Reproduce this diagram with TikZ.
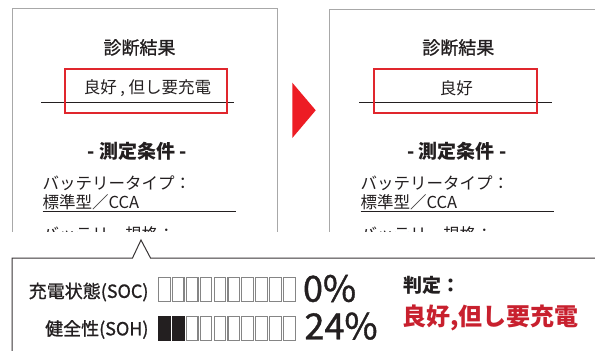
\documentclass[tikz,border=0pt]{standalone}
\usepackage{fontspec}
\setmainfont{Noto Sans CJK JP}
\newfontfamily\jpmed{Noto Sans CJK JP}[FakeBold=1]
\definecolor{panelgray}{HTML}{A8A8A8}
\definecolor{boxred}{HTML}{E0262D}
\definecolor{arrowred}{HTML}{ED1C24}
\definecolor{textred}{HTML}{C8202E}
\definecolor{ink}{HTML}{231F20}
\definecolor{cellgray}{HTML}{858585}
\begin{document}
\begin{tikzpicture}[x=1pt,y=-1pt,
  panel/.style={draw=panelgray, line width=0.9pt},
  redbox/.style={draw=boxred, line width=2.2pt},
  rulestyle/.style={draw=ink, line width=1.4pt},
  txt/.style={inner sep=0pt, outer sep=0pt, text=ink},
  title/.style={txt, font=\jpmed\fontsize{18}{18}\selectfont},
  result/.style={txt, font=\fontsize{16.5}{16.5}\selectfont},
  cond/.style={txt, font=\bfseries\fontsize{19}{19}\selectfont},
  body/.style={txt, anchor=west, font=\fontsize{16.5}{16.5}\selectfont},
  label/.style={txt, anchor=east, font=\jpmed\fontsize{18}{18}\selectfont},
  pct/.style={txt, anchor=base west, font=\jpmed\fontsize{36}{36}\selectfont},
  cellbox/.style={draw=cellgray, line width=1.1pt, fill=white, minimum width=11.8pt, minimum height=23.9pt, inner sep=0pt, outer sep=0pt},
  fullcell/.style={cellbox, draw=ink, fill=ink},
  popup/.style={draw=ink!90, line width=1pt}
]
\useasboundingbox (0,0) rectangle (595,351);
\fill[white] (0,0) rectangle (595,351);

\begin{scope}
\clip (0,0) rectangle (595,231);
% left panel
\draw[panel] (12,240) -- (12,8.5) -- (277,8.5) -- (277,240);
\node[title] (t1) at (139.5,47.5) {診断結果};
\node[result] (r1) at (147.5,88.3) {良好 , 但し要充電};
\draw[rulestyle] (41,102.3) -- (234,102.3);
\draw[redbox] (65,69.3) rectangle (227.3,113.3);
\node[cond] (m1) at (137.2,151) {- 測定条件 -};
\node[body] (b1) at (42.5,183.3) {バッテリータイプ：};
\node[body] (s1) at (42.5,202.5) {標準型／CCA};
\draw[rulestyle] (42.7,211.5) -- (236,211.5);
\node[body] (c1) at (42.5,234) {バッテリー規格：};
% right panel
\draw[panel] (329,240) -- (329,9) -- (600,9);
\node[title] (t2) at (458.3,47.5) {診断結果};
\node[result] (r2) at (456.3,88.3) {良好};
\draw[rulestyle] (359,102.3) -- (551.7,102.3);
\draw[redbox] (374.3,69.3) rectangle (537,113.3);
\node[cond] (m2) at (456.7,151) {- 測定条件 -};
\node[body] (b2) at (360.5,183.3) {バッテリータイプ：};
\node[body] (s2) at (360.5,202.5) {標準型／CCA};
\draw[rulestyle] (360.7,211.5) -- (554,211.5);
\node[body] (c2) at (360.5,234) {バッテリー規格：};
\end{scope}

% arrow
\fill[arrowred] (292.3,82.7) -- (315.7,110.3) -- (292.3,138) -- cycle;

% popup
\draw[popup] (600,258) -- (150.5,258) -- (141,240) -- (132.5,258) -- (12,258) -- (12,360);

\node[label] (soc) at (148.5,292) {充電状態(SOC)};
\node[label] (soh) at (148.5,329.5) {健全性(SOH)};
\foreach \i in {0,...,9} {
  \node[cellbox] (socc\i) at (164.2+\i*13.94,289.8) {};
}
\foreach \i in {0,1} {
  \node[fullcell] (sohc\i) at (164.2+\i*13.94,328.2) {};
}
\foreach \i in {2,...,9} {
  \node[cellbox] (sohc\i) at (164.2+\i*13.94,328.2) {};
}
\node[pct] (p1) at (303,301.7) {0\%};
\node[pct] (p2) at (304.5,339.3) {24\%};
\node[txt, anchor=west, font=\bfseries\fontsize{19}{19}\selectfont] (jt) at (403,285) {判定：};
\node[txt, anchor=west, text=textred, font=\bfseries\fontsize{24}{24}\selectfont] (jv) at (402.5,318) {良好,但し要充電};
\end{tikzpicture}
\end{document}
